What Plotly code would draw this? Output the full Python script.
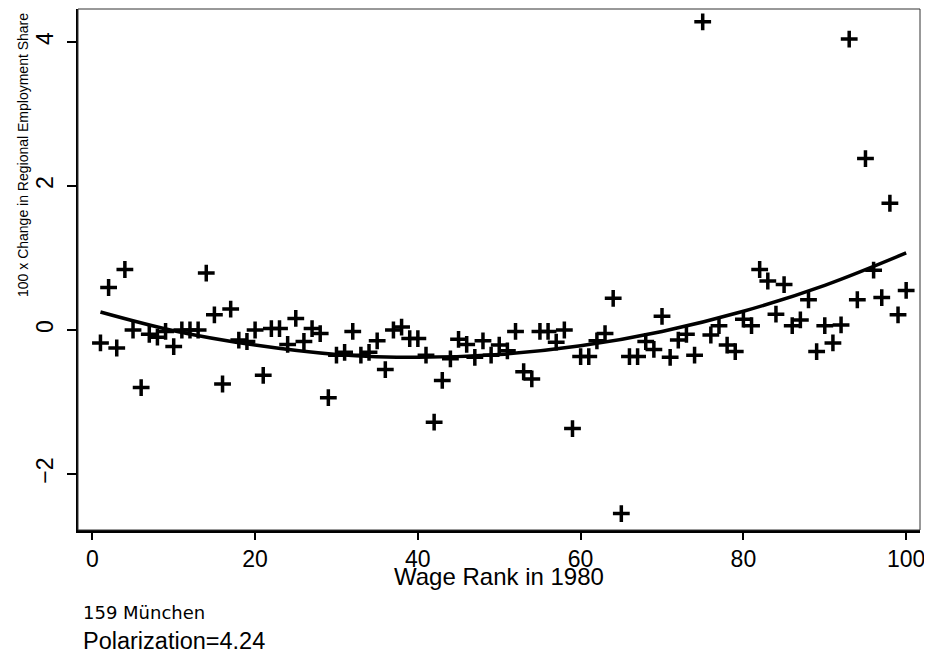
import plotly.graph_objects as go

# wage rank of each occupation (x) and 100 x change in its regional employment share (y)
wage_rank = list(range(1, 101))
share_change = [
    -0.18, 0.59, -0.25, 0.84, 0.00, -0.80, -0.06, -0.10, -0.02, -0.23,
    0.00, 0.00, 0.00, 0.79, 0.21, -0.75, 0.29, -0.14, -0.16, 0.00,
    -0.63, 0.02, 0.02, -0.20, 0.16, -0.16, 0.02, -0.05, -0.94, -0.35,
    -0.31, -0.02, -0.35, -0.31, -0.15, -0.55, 0.00, 0.04, -0.12, -0.12,
    -0.35, -1.28, -0.70, -0.40, -0.13, -0.20, -0.38, -0.15, -0.35, -0.21,
    -0.29, -0.02, -0.58, -0.68, -0.02, -0.02, -0.17, 0.00, -1.37, -0.37,
    -0.37, -0.15, -0.05, 0.44, -2.55, -0.37, -0.37, -0.16, -0.27, 0.19,
    -0.38, -0.14, -0.06, -0.35, 4.28, -0.07, 0.06, -0.21, -0.30, 0.15,
    0.06, 0.84, 0.68, 0.22, 0.63, 0.06, 0.14, 0.42, -0.30, 0.06,
    -0.18, 0.07, 4.04, 0.42, 2.38, 0.83, 0.45, 1.76, 0.21, 0.55,
]

# fitted curve
fit_rank = [1, 10, 20, 30, 40, 50, 60, 70, 80, 90, 100]
fit_value = [0.25, -0.01, -0.21, -0.34, -0.38, -0.34, -0.22, -0.02, 0.26, 0.62, 1.07]

x_ticks = [0, 20, 40, 60, 80, 100]
y_ticks = [-2, 0, 2, 4]

region_label = "159 München"
polarization = 4.24

fig = go.Figure()

fig.add_trace(go.Scatter(
    x=wage_rank,
    y=share_change,
    mode='markers',
    marker=dict(symbol='cross-thin', size=12, line=dict(width=3.5, color='black'), color='black'),
    showlegend=False,
))

fig.add_trace(go.Scatter(
    x=fit_rank,
    y=fit_value,
    mode='lines',
    line=dict(color='black', width=3.5, shape='spline'),
    showlegend=False,
))

# page body has an 8px margin, so the figure sits 8px in from the window corner
fig.update_layout(
    width=924,
    height=643,
    paper_bgcolor='white',
    plot_bgcolor='white',
    margin=dict(l=70, r=12, t=1, b=121),
    font=dict(family='Liberation Sans, Arial, sans-serif', color='black'),
    shapes=[dict(type='rect', xref='paper', yref='paper', x0=0, x1=1, y0=0, y1=1,
                 line=dict(color='#333333', width=1))],
)

fig.update_xaxes(
    range=[-1.76, 101.7],
    tickvals=x_ticks,
    ticks='outside',
    ticklen=7,
    tickwidth=1.5,
    tickcolor='black',
    tickfont=dict(size=23),
    ticklabeloverflow='allow',
    showline=True,
    linecolor='black',
    linewidth=2.5,
    showgrid=False,
    zeroline=False,
)

fig.update_yaxes(
    range=[-2.778, 4.458],
    tickvals=y_ticks,
    ticks='outside',
    ticklen=9,
    tickwidth=1.5,
    tickcolor='black',
    tickangle=-90,
    ticklabelstandoff=5,
    tickfont=dict(size=23),
    showline=True,
    linecolor='black',
    linewidth=2,
    showgrid=False,
    zeroline=False,
)

fig.add_annotation(
    text="Wage Rank in 1980", xref='paper', yref='paper', x=0.5, y=-0.0902,
    xanchor='center', yanchor='middle', showarrow=False, font=dict(size=24),
)
fig.add_annotation(
    text="100 x Change in Regional Employment Share", xref='paper', yref='paper',
    x=-0.0653, y=0.7198, textangle=-90, xanchor='center', yanchor='middle', showarrow=False,
    font=dict(size=14),
)
fig.add_annotation(
    text=region_label, xref='paper', yref='paper', x=0.003, y=-0.1574,
    xanchor='left', yanchor='middle', showarrow=False,
    font=dict(size=18, family='DejaVu Sans, sans-serif'),
)
fig.add_annotation(
    text=f"Polarization={polarization}", xref='paper', yref='paper', x=0.003, y=-0.213,
    xanchor='left', yanchor='middle', showarrow=False, font=dict(size=23.5),
)

fig.write_html("out.html")
